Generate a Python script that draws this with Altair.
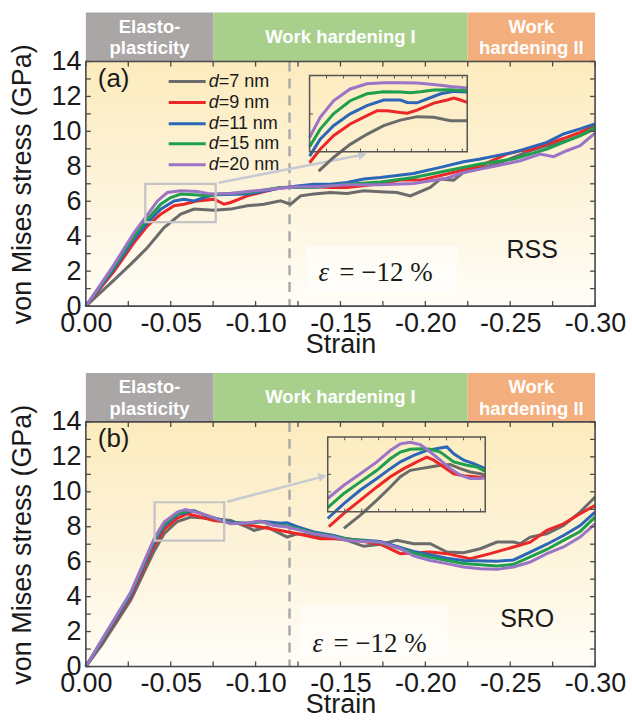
import altair as alt
import pandas as pd

SANS = "Liberation Sans"
SERIF = "Liberation Serif"

SERIES = ["d=7 nm", "d=9 nm", "d=11 nm", "d=15 nm", "d=20 nm"]
COLORS = ["#6b6b6b", "#ec2727", "#2c66b8", "#1f9e4d", "#9b73c7"]
LEGEND_SUFFIX = ["=7 nm", "=9 nm", "=11 nm", "=15 nm", "=20 nm"]
LEGEND_Y = [12.85, 11.65, 10.44, 9.29, 8.09]

STRAIN_LABELS = [0, -0.05, -0.10, -0.15, -0.20, -0.25, -0.30]
STRAIN_MINOR = [0, -0.025, -0.05, -0.075, -0.10, -0.125, -0.15, -0.175, -0.20, -0.225, -0.25, -0.275, -0.30]
STRESS_LABELS = [0, 2, 4, 6, 8, 10, 12, 14]
STRESS_MINOR = list(range(0, 15))

BAND_START = [0, -0.075, -0.225]
BAND_END = [-0.075, -0.225, -0.30]
BAND_TEXT = ["Elasto-\nplasticity", "Work hardening I", "Work\nhardening II"]
BAND_COLOR = ["#aaa6a6", "#a8cf8b", "#f3ae7d"]

# ---------- panel (a) RSS ----------
RSS = {
    "d=7 nm": ([0, -0.0167, -0.0265, -0.0363, -0.0461, -0.0559, -0.0637, -0.0755, -0.0853, -0.0951, -0.1049, -0.1147, -0.1206, -0.1265, -0.1343, -0.1441, -0.1539, -0.1637, -0.1735, -0.1833, -0.1912, -0.2029, -0.2088, -0.2167, -0.2225, -0.2422, -0.2618, -0.2716, -0.2833, -0.2912, -0.3000],
               [0, 1.50, 2.40, 3.35, 4.49, 5.26, 5.55, 5.49, 5.55, 5.74, 5.83, 6.02, 5.83, 6.31, 6.41, 6.50, 6.45, 6.60, 6.55, 6.50, 6.31, 6.79, 7.27, 7.21, 7.65, 8.13, 8.89, 9.18, 9.47, 9.75, 10.14]),
    "d=9 nm": ([0, -0.0167, -0.0284, -0.0363, -0.0441, -0.0520, -0.0578, -0.0657, -0.0755, -0.0814, -0.0853, -0.0951, -0.1147, -0.1343, -0.1441, -0.1539, -0.1735, -0.1853, -0.1971, -0.2127, -0.2324, -0.2480, -0.2559, -0.2618, -0.2716, -0.2833, -0.2912, -0.3000],
               [0, 2.00, 3.63, 4.59, 5.26, 5.74, 5.83, 6.02, 6.12, 5.83, 5.93, 6.31, 6.79, 6.83, 6.79, 6.79, 7.00, 7.21, 7.21, 7.56, 8.03, 8.70, 8.89, 8.93, 9.28, 9.66, 9.94, 10.33]),
    "d=11 nm": ([0, -0.0167, -0.0284, -0.0363, -0.0441, -0.0520, -0.0578, -0.0637, -0.0696, -0.0755, -0.0951, -0.1147, -0.1245, -0.1343, -0.1441, -0.1539, -0.1637, -0.1735, -0.1931, -0.2088, -0.2225, -0.2324, -0.2422, -0.2520, -0.2618, -0.2716, -0.2814, -0.2912, -0.3000],
                [0, 2.15, 3.83, 4.78, 5.55, 6.02, 6.12, 6.02, 6.21, 6.37, 6.41, 6.75, 6.88, 6.98, 6.98, 7.07, 7.27, 7.36, 7.59, 7.94, 8.26, 8.42, 8.61, 8.80, 9.08, 9.37, 9.85, 10.14, 10.43]),
    "d=15 nm": ([0, -0.0167, -0.0284, -0.0363, -0.0441, -0.0500, -0.0559, -0.0637, -0.0716, -0.0794, -0.0951, -0.1147, -0.1343, -0.1539, -0.1735, -0.1931, -0.2127, -0.2324, -0.2520, -0.2618, -0.2716, -0.2814, -0.2912, -0.3000],
                [0, 2.25, 4.02, 4.97, 5.83, 6.21, 6.41, 6.37, 6.31, 6.41, 6.50, 6.79, 6.79, 6.98, 7.10, 7.36, 7.75, 8.13, 8.42, 8.70, 8.99, 9.37, 9.75, 10.23]),
    "d=20 nm": ([0, -0.0167, -0.0284, -0.0353, -0.0422, -0.0480, -0.0559, -0.0657, -0.0716, -0.0755, -0.0853, -0.0951, -0.1049, -0.1147, -0.1245, -0.1343, -0.1441, -0.1539, -0.1735, -0.1931, -0.2127, -0.2225, -0.2324, -0.2422, -0.2559, -0.2676, -0.2755, -0.2833, -0.2912, -0.3000],
                [0, 2.39, 4.21, 5.10, 6.02, 6.50, 6.60, 6.56, 6.45, 6.41, 6.45, 6.56, 6.64, 6.75, 6.83, 6.83, 6.88, 6.94, 6.95, 7.02, 7.32, 7.65, 7.84, 8.03, 8.32, 8.70, 8.55, 8.89, 9.18, 9.90]),
}
RSS_INSET = {
    "d=7 nm": ([-0.0374, -0.0413, -0.0457, -0.0501, -0.0545, -0.0589, -0.0633, -0.0677, -0.0721, -0.0765],
               [4.24, 4.63, 5.01, 5.30, 5.55, 5.71, 5.81, 5.79, 5.69, 5.69]),
    "d=9 nm": ([-0.0350, -0.0378, -0.0413, -0.0457, -0.0501, -0.0528, -0.0554, -0.0589, -0.0607, -0.0633, -0.0677, -0.0712, -0.0730, -0.0747, -0.0765],
               [4.48, 4.87, 5.26, 5.60, 5.84, 5.98, 5.98, 5.93, 5.91, 6.00, 6.20, 6.29, 6.35, 6.29, 6.22]),
    "d=11 nm": ([-0.0350, -0.0378, -0.0413, -0.0457, -0.0501, -0.0545, -0.0589, -0.0607, -0.0633, -0.0659, -0.0695, -0.0730, -0.0765],
                [4.67, 5.16, 5.55, 5.89, 6.13, 6.29, 6.29, 6.22, 6.21, 6.32, 6.47, 6.54, 6.52]),
    "d=15 nm": ([-0.0350, -0.0378, -0.0413, -0.0457, -0.0501, -0.0545, -0.0589, -0.0615, -0.0642, -0.0677, -0.0721, -0.0765],
                [4.94, 5.45, 5.89, 6.27, 6.47, 6.53, 6.52, 6.50, 6.53, 6.58, 6.59, 6.56]),
    "d=20 nm": ([-0.0350, -0.0378, -0.0413, -0.0457, -0.0501, -0.0545, -0.0589, -0.0633, -0.0677, -0.0721, -0.0765],
                [5.21, 5.79, 6.27, 6.61, 6.76, 6.79, 6.79, 6.78, 6.74, 6.68, 6.64]),
}

# ---------- panel (b) SRO ----------
SRO = {
    "d=7 nm": ([0, -0.0098, -0.0265, -0.0402, -0.0461, -0.0539, -0.0618, -0.0755, -0.0853, -0.0951, -0.0990, -0.1069, -0.1186, -0.1245, -0.1343, -0.1539, -0.1637, -0.1735, -0.1833, -0.1931, -0.2029, -0.2127, -0.2225, -0.2324, -0.2422, -0.2520, -0.2559, -0.2618, -0.2716, -0.2814, -0.2912, -0.3000],
               [0, 1.30, 3.80, 6.60, 7.60, 8.30, 8.55, 8.46, 8.36, 7.98, 7.79, 7.98, 7.41, 7.60, 7.50, 7.22, 6.88, 7.00, 7.22, 7.03, 7.03, 6.55, 6.51, 6.74, 7.12, 7.12, 7.03, 7.41, 7.60, 8.07, 8.84, 9.70]),
    "d=9 nm": ([0, -0.0098, -0.0265, -0.0402, -0.0461, -0.0539, -0.0598, -0.0657, -0.0755, -0.0912, -0.1029, -0.1147, -0.1245, -0.1382, -0.1539, -0.1735, -0.1853, -0.2029, -0.2127, -0.2265, -0.2382, -0.2520, -0.2618, -0.2716, -0.2814, -0.2912, -0.3000],
               [0, 1.45, 4.00, 6.90, 7.85, 8.50, 8.74, 8.60, 8.36, 8.17, 7.98, 7.79, 7.60, 7.31, 7.31, 7.00, 6.46, 6.55, 6.46, 6.17, 6.46, 6.84, 7.12, 7.79, 8.17, 8.74, 9.22]),
    "d=11 nm": ([0, -0.0098, -0.0265, -0.0402, -0.0461, -0.0539, -0.0637, -0.0716, -0.0794, -0.0853, -0.0951, -0.1049, -0.1147, -0.1186, -0.1245, -0.1343, -0.1461, -0.1539, -0.1735, -0.1931, -0.2127, -0.2225, -0.2422, -0.2520, -0.2618, -0.2716, -0.2814, -0.2912, -0.3000],
                [0, 1.50, 4.10, 7.10, 8.05, 8.70, 8.93, 8.60, 8.40, 8.25, 8.20, 8.30, 8.20, 8.23, 8.00, 7.70, 7.50, 7.30, 7.15, 6.59, 6.20, 6.07, 6.02, 6.10, 6.55, 7.00, 7.50, 8.07, 8.84]),
    "d=15 nm": ([0, -0.0098, -0.0265, -0.0402, -0.0461, -0.0539, -0.0608, -0.0657, -0.0716, -0.0794, -0.0853, -0.0951, -0.1029, -0.1108, -0.1186, -0.1265, -0.1343, -0.1461, -0.1539, -0.1735, -0.1931, -0.2029, -0.2225, -0.2422, -0.2520, -0.2618, -0.2716, -0.2814, -0.2912, -0.3000],
                [0, 1.55, 4.20, 7.20, 8.15, 8.75, 8.93, 8.85, 8.62, 8.36, 8.20, 8.20, 8.30, 8.10, 8.05, 7.85, 7.65, 7.45, 7.30, 7.10, 6.50, 6.25, 5.89, 5.75, 5.85, 6.27, 6.70, 7.22, 7.73, 8.55]),
    "d=20 nm": ([0, -0.0098, -0.0265, -0.0402, -0.0461, -0.0539, -0.0588, -0.0637, -0.0716, -0.0794, -0.0853, -0.0951, -0.1029, -0.1108, -0.1186, -0.1265, -0.1343, -0.1461, -0.1539, -0.1637, -0.1735, -0.1853, -0.1931, -0.2029, -0.2127, -0.2225, -0.2324, -0.2422, -0.2520, -0.2618, -0.2716, -0.2814, -0.2912, -0.3000],
                [0, 1.60, 4.27, 7.31, 8.27, 8.84, 8.99, 8.87, 8.65, 8.36, 8.17, 8.21, 8.33, 8.07, 7.98, 7.79, 7.60, 7.41, 7.22, 7.16, 7.12, 6.74, 6.33, 6.07, 5.89, 5.70, 5.60, 5.56, 5.70, 5.98, 6.46, 6.84, 7.41, 8.17]),
}
SRO_INSET = {
    "d=7 nm": ([-0.0447, -0.0490, -0.0533, -0.0568, -0.0594, -0.0620, -0.0646, -0.0672, -0.0698, -0.0724, -0.0750, -0.0776, -0.0802, -0.0815],
               [6.71, 7.10, 7.54, 7.93, 8.23, 8.42, 8.47, 8.52, 8.57, 8.59, 8.47, 8.37, 8.32, 8.28]),
    "d=9 nm": ([-0.0408, -0.0447, -0.0490, -0.0533, -0.0568, -0.0603, -0.0637, -0.0663, -0.0681, -0.0707, -0.0733, -0.0759, -0.0785, -0.0815],
               [6.76, 7.15, 7.54, 7.93, 8.23, 8.47, 8.67, 8.81, 8.72, 8.52, 8.32, 8.26, 8.23, 8.20]),
    "d=11 nm": ([-0.0405, -0.0447, -0.0490, -0.0533, -0.0568, -0.0594, -0.0629, -0.0663, -0.0698, -0.0715, -0.0733, -0.0759, -0.0785, -0.0815],
                [7.00, 7.44, 7.84, 8.18, 8.47, 8.67, 8.86, 9.01, 9.08, 9.11, 8.91, 8.72, 8.62, 8.47]),
    "d=15 nm": ([-0.0405, -0.0447, -0.0490, -0.0533, -0.0568, -0.0594, -0.0620, -0.0646, -0.0672, -0.0698, -0.0733, -0.0767, -0.0793, -0.0815],
                [7.32, 7.74, 8.08, 8.42, 8.76, 8.96, 9.04, 9.06, 9.04, 8.96, 8.67, 8.57, 8.52, 8.39]),
    "d=20 nm": ([-0.0405, -0.0447, -0.0490, -0.0533, -0.0568, -0.0594, -0.0620, -0.0646, -0.0672, -0.0698, -0.0724, -0.0750, -0.0776, -0.0802, -0.0815],
                [7.59, 7.98, 8.32, 8.67, 9.01, 9.20, 9.25, 9.18, 8.96, 8.72, 8.47, 8.28, 8.18, 8.18, 8.20]),
}

# inset frame tick marks (in the main plot's units)
RSS_INSET_XTICKS = [-0.1418, -0.1518, -0.1618, -0.1718, -0.1818, -0.1918, -0.2018, -0.2118, -0.2218]
RSS_INSET_YTICKS = [11.0]
SRO_INSET_XTICKS = [-0.1525, -0.1625, -0.1725, -0.1825, -0.1925, -0.2025, -0.2125, -0.2225, -0.2325]
SRO_INSET_YTICKS = [10.0, 11.0, 12.0]

W, H = 510, 245
BAND_H = 49

xscale = alt.Scale(domain=[0, -0.30], nice=False, zero=False)
yscale = alt.Scale(domain=[0, 14], nice=False, zero=False)
xaxis = alt.Axis(values=STRAIN_LABELS,
                 labelExpr="(datum.value < 0 ? '-' : '') + format(abs(datum.value), '.2f')",
                 ticks=False, domain=False, grid=False, labelFontSize=27, labelFont=SANS,
                 labelColor="#1a1a1a", labelPadding=4, labelFlush=False, labelOverlap=False,
                 titleFontSize=27, titleFont=SANS, titleFontWeight="normal", titleColor="#1a1a1a",
                 titlePadding=-5)
yaxis = alt.Axis(values=STRESS_LABELS, format="d", ticks=False, domain=False, grid=False,
                 labelFontSize=27, labelFont=SANS, labelColor="#1a1a1a", labelPadding=5,
                 labelFlush=False, labelOverlap=False, titleFontSize=27, titleFont=SANS,
                 titleFontWeight="normal", titleColor="#1a1a1a", titlePadding=14)


def X(field):
    return alt.X(f"{field}:Q", scale=xscale, axis=xaxis, title="Strain")


def X2(field):
    return alt.X2(f"{field}:Q")


def Y(field):
    return alt.Y(f"{field}:Q", scale=yscale, axis=yaxis, title="von Mises stress (GPa)")


def Y2(field):
    return alt.Y2(f"{field}:Q")


ONE = pd.DataFrame({"k": [0]})


def series_df(table, name):
    xs, ys = table[name]
    return pd.DataFrame({"strain": xs, "stress": ys, "idx": list(range(len(xs)))})


def panel(main, inset, tag, sample, box, frame, arrow, eps_box, eps_pos, sample_pos, legend,
          inset_xticks, inset_yticks):
    layers = []
    grad = alt.LinearGradient(gradient="linear", x1=0, x2=0, y1=0, y2=1,
                              stops=[alt.GradientStop(color="#fcebbd", offset=0),
                                     alt.GradientStop(color="#fdf3d9", offset=0.5),
                                     alt.GradientStop(color="#fffdf7", offset=1)])
    layers.append(alt.Chart(ONE).mark_rect(color=grad).encode(
        x=alt.value(0), x2=alt.value(W), y=alt.value(0), y2=alt.value(H)))

    mids = [(a + b) / 2 for a, b in zip(BAND_START, BAND_END)]
    bands = pd.DataFrame({"start": BAND_START, "end": BAND_END, "color": BAND_COLOR, "mid": mids})
    layers.append(alt.Chart(bands).mark_rect().encode(
        x=X("start"), x2=X2("end"), y=alt.value(-BAND_H), y2=alt.value(0),
        color=alt.Color("color:N", scale=None)))
    two = [t.split("\n") for t in BAND_TEXT]
    top_df = pd.DataFrame({"mid": [m for m, p in zip(mids, two) if len(p) == 2],
                           "t": [p[0] for p in two if len(p) == 2]})
    bot_df = pd.DataFrame({"mid": [m for m, p in zip(mids, two) if len(p) == 2],
                           "t": [p[1] for p in two if len(p) == 2]})
    one_df = pd.DataFrame({"mid": [m for m, p in zip(mids, two) if len(p) == 1],
                           "t": [p[0] for p in two if len(p) == 1]})
    btxt = dict(color="white", fontWeight="bold", font=SANS, fontSize=18.5, baseline="middle", align="center")
    layers.append(alt.Chart(top_df).mark_text(**btxt).encode(x=X("mid"), y=alt.value(-35), text="t:N"))
    layers.append(alt.Chart(bot_df).mark_text(**btxt).encode(x=X("mid"), y=alt.value(-13), text="t:N"))
    layers.append(alt.Chart(one_df).mark_text(**btxt).encode(x=X("mid"), y=alt.value(-25), text="t:N"))

    # dashed line at -12 %
    layers.append(alt.Chart(pd.DataFrame({"s": [-0.12]})).mark_rule(
        color="#a9a9a9", strokeWidth=2.5, strokeDash=[10, 7]).encode(
        x=X("s"), y=alt.value(0), y2=alt.value(H)))

    # light box behind epsilon label
    eb = pd.DataFrame({"x0": [eps_box[0]], "x1": [eps_box[1]], "y0": [eps_box[2]], "y1": [eps_box[3]]})
    layers.append(alt.Chart(eb).mark_rect(color="white", opacity=0.55).encode(
        x=X("x0"), x2=X2("x1"), y=Y("y0"), y2=Y2("y1")))

    for name, col in zip(SERIES, COLORS):
        layers.append(alt.Chart(series_df(main, name)).mark_line(color=col, strokeWidth=3).encode(
            x=X("strain"), y=Y("stress"), order="idx:Q"))

    # zoom box
    bx = pd.DataFrame({"x0": [box[0]], "x1": [box[1]], "y0": [box[2]], "y1": [box[3]]})
    layers.append(alt.Chart(bx).mark_rect(filled=False, stroke="#c3c3c3", strokeWidth=2.2).encode(
        x=X("x0"), x2=X2("x1"), y=Y("y0"), y2=Y2("y1")))

    # arrow
    ar = pd.DataFrame({"x0": [arrow[0]], "y0": [arrow[1]], "x1": [arrow[2]], "y1": [arrow[3]]})
    layers.append(alt.Chart(ar).mark_rule(color="#c6cad2", strokeWidth=2.5).encode(
        x=X("x0"), y=Y("y0"), x2=X2("x1"), y2=Y2("y1")))
    layers.append(alt.Chart(ar).mark_point(shape="triangle-right", filled=True, size=90,
                                           color="#c6cad2", opacity=1, angle=arrow[4]).encode(
        x=X("x1"), y=Y("y1")))

    # inset lines mapped from the zoom box into the inset frame
    for name, col in zip(SERIES, COLORS):
        d = series_df(inset, name)
        expr_x = f"{frame[0]} + (datum.strain - ({box[0]})) / ({box[1] - box[0]}) * ({frame[1] - frame[0]})"
        expr_y = f"{frame[2]} + (datum.stress - ({box[2]})) / ({box[3] - box[2]}) * ({frame[3] - frame[2]})"
        layers.append(alt.Chart(d).transform_calculate(ix=expr_x, iy=expr_y).mark_line(
            color=col, strokeWidth=3).encode(x=X("ix"), y=Y("iy"), order="idx:Q"))

    fr = pd.DataFrame({"x0": [frame[0]], "x1": [frame[1]], "y0": [frame[2]], "y1": [frame[3]]})
    layers.append(alt.Chart(fr).mark_rect(filled=False, stroke="#555555", strokeWidth=1.5).encode(
        x=X("x0"), x2=X2("x1"), y=Y("y0"), y2=Y2("y1")))
    itx = pd.DataFrame({"s": inset_xticks, "b": [frame[2]] * len(inset_xticks),
                        "bt": [frame[2] + 0.18] * len(inset_xticks),
                        "t": [frame[3]] * len(inset_xticks), "tt": [frame[3] - 0.18] * len(inset_xticks)})
    layers.append(alt.Chart(itx).mark_rule(color="#555555", strokeWidth=1).encode(
        x=X("s"), y=Y("b"), y2=Y2("bt")))
    layers.append(alt.Chart(itx).mark_rule(color="#555555", strokeWidth=1).encode(
        x=X("s"), y=Y("t"), y2=Y2("tt")))
    ity = pd.DataFrame({"v": inset_yticks, "l": [frame[0]] * len(inset_yticks),
                        "lt": [frame[0] - 0.002] * len(inset_yticks)})
    layers.append(alt.Chart(ity).mark_rule(color="#555555", strokeWidth=1).encode(
        y=Y("v"), x=X("l"), x2=X2("lt")))

    # texts
    layers.append(alt.Chart(pd.DataFrame({"x": [-0.007], "y": [13.0], "t": [tag]})).mark_text(
        align="left", baseline="middle", fontSize=26, font=SANS, color="#1a1a1a").encode(
        x=X("x"), y=Y("y"), text="t:N"))
    layers.append(alt.Chart(pd.DataFrame({"x": [sample_pos[0]], "y": [sample_pos[1]], "t": [sample]})).mark_text(
        align="center", baseline="middle", fontSize=25, font=SANS, color="#1a1a1a").encode(
        x=X("x"), y=Y("y"), text="t:N"))
    ep = pd.DataFrame({"x": [eps_pos[0]], "y": [eps_pos[1]], "e": ["ε"], "t": ["= −12 %"]})
    layers.append(alt.Chart(ep).mark_text(
        align="left", baseline="middle", fontSize=27, font=SERIF, fontStyle="italic", color="#1a1a1a").encode(
        x=X("x"), y=Y("y"), text="e:N"))
    layers.append(alt.Chart(ep).mark_text(
        align="left", baseline="middle", fontSize=27, font=SERIF, dx=21, color="#1a1a1a").encode(
        x=X("x"), y=Y("y"), text="t:N"))

    if legend:
        lg = pd.DataFrame({"x0": [-0.0488] * 5, "x1": [-0.0706] * 5, "tx": [-0.0724] * 5,
                           "y": LEGEND_Y, "color": COLORS, "suffix": LEGEND_SUFFIX, "d": ["d"] * 5})
        layers.append(alt.Chart(lg).mark_rule(strokeWidth=3).encode(
            x=X("x0"), x2=X2("x1"), y=Y("y"), color=alt.Color("color:N", scale=None)))
        layers.append(alt.Chart(lg).mark_text(align="left", baseline="middle", fontSize=18, font=SANS,
                                              fontStyle="italic", color="#1a1a1a").encode(
            x=X("tx"), y=Y("y"), text="d:N"))
        layers.append(alt.Chart(lg).mark_text(align="left", baseline="middle", fontSize=18, font=SANS,
                                              dx=10, color="#1a1a1a").encode(
            x=X("tx"), y=Y("y"), text="suffix:N"))

    # inward ticks on all four sides
    xt = pd.DataFrame({"s": STRAIN_MINOR})
    yt = pd.DataFrame({"v": STRESS_MINOR})
    tick = dict(color="#4a4a4a", strokeWidth=1.3)
    layers.append(alt.Chart(xt).mark_rule(**tick).encode(x=X("s"), y=alt.value(H), y2=alt.value(H - 5)))
    layers.append(alt.Chart(xt).mark_rule(**tick).encode(x=X("s"), y=alt.value(0), y2=alt.value(5)))
    layers.append(alt.Chart(yt).mark_rule(**tick).encode(y=Y("v"), x=alt.value(0), x2=alt.value(5)))
    layers.append(alt.Chart(yt).mark_rule(**tick).encode(y=Y("v"), x=alt.value(W), x2=alt.value(W - 5)))

    # frame
    layers.append(alt.Chart(ONE).mark_rect(filled=False, stroke="#4a4a4a", strokeWidth=1.6).encode(
        x=alt.value(0), x2=alt.value(W), y=alt.value(0), y2=alt.value(H)))

    return alt.layer(*layers).properties(width=W, height=H)


pa = panel(RSS, RSS_INSET, "(a)", "RSS",
           box=(-0.035, -0.0765, 4.8, 7.0),
           frame=(-0.1318, -0.2247, 8.84, 13.2),
           arrow=(-0.0782, 7.06, -0.163, 8.66, 349),
           eps_box=(-0.130, -0.219, 0.75, 3.44),
           eps_pos=(-0.137, 1.9), sample_pos=(-0.263, 3.2), legend=True,
           inset_xticks=RSS_INSET_XTICKS, inset_yticks=RSS_INSET_YTICKS)
pb = panel(SRO, SRO_INSET, "(b)", "SRO",
           box=(-0.0405, -0.0815, 7.2, 9.4),
           frame=(-0.1425, -0.2353, 8.86, 13.13),
           arrow=(-0.0833, 9.43, -0.1394, 10.87, 345),
           eps_box=(-0.126, -0.213, 0.57, 3.5),
           eps_pos=(-0.1335, 1.3), sample_pos=(-0.26, 2.7), legend=False,
           inset_xticks=SRO_INSET_XTICKS, inset_yticks=SRO_INSET_YTICKS)

chart = alt.vconcat(pa, pb, spacing=14).properties(
    padding={"left": 8, "top": 11, "right": 5, "bottom": 3}
).configure_view(stroke=None).configure(font=SANS, background="white")

chart.save("out.html", embed_options={"renderer": "svg", "actions": False})
